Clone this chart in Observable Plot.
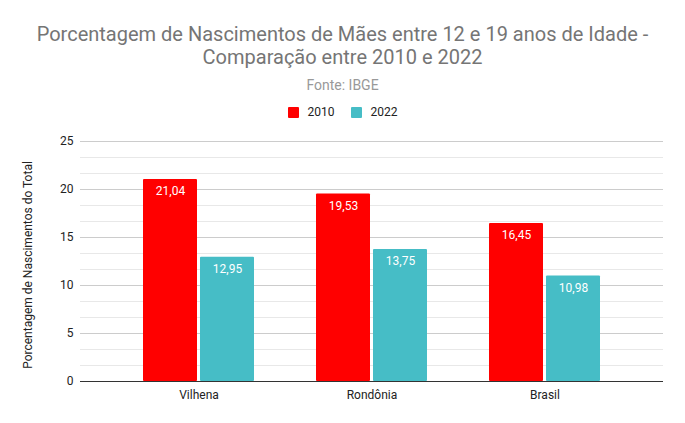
<!DOCTYPE html>
<html><head><meta charset="utf-8">
<script src="https://cdn.jsdelivr.net/npm/d3@7"></script>
<script src="https://cdn.jsdelivr.net/npm/@observablehq/plot@0.6"></script>
<style>
body{margin:0;background:#fff;font-family:Roboto,sans-serif;}
#wrap{position:relative;width:685px;height:423px;overflow:hidden;}
.title{position:absolute;left:0;width:685px;top:23px;text-align:center;font-size:20px;line-height:23px;color:#757575;}
.sub{position:absolute;left:0;width:685px;top:77px;text-align:center;font-size:14px;line-height:16px;color:#999;}
.legend{position:absolute;left:0;width:685px;top:105px;display:flex;justify-content:center;align-items:center;font-size:12px;color:#222;}
.legend span.sw{display:inline-block;width:11px;height:11px;border-radius:1px;margin-right:9px;}
.legend .item{display:flex;align-items:center;margin:0 8px;}
#chart{position:absolute;left:0;top:125px;}
.ylabel{position:absolute;left:28px;top:265px;transform:translate(-50%,-50%) rotate(-90deg);white-space:nowrap;font-size:12px;color:#222;line-height:14px;}
</style></head>
<body><div id="wrap">
<div class="title">Porcentagem de Nascimentos de Mães entre 12 e 19 anos de Idade -<br>Comparação entre 2010 e 2022</div>
<div class="sub">Fonte: IBGE</div>
<div class="legend" id="legend"></div>
<div id="chart"></div>
<div class="ylabel">Porcentagem de Nascimentos do Total</div>
</div>
<script>
const categories = ["Vilhena", "Rondônia", "Brasil"];
const series = ["2010", "2022"];
const values2010 = [21.04, 19.53, 16.45];
const values2022 = [12.95, 13.75, 10.98];
const yTicks = [0, 5, 10, 15, 20, 25];
const minorGrid = [5/3, 10/3, 20/3, 25/3, 35/3, 40/3, 50/3, 55/3, 65/3, 70/3];
const colors = ["#ff0000", "#46bdc6"];

const data = categories.map((c, i) => ({group: c, v2010: values2010[i], v2022: values2022[i]}));
const fmt = v => v.toFixed(2).replace(".", ",");

const leg = document.getElementById("legend");
series.forEach((s, i) => {
  const it = document.createElement("div"); it.className = "item";
  it.innerHTML = `<span class="sw" style="background:${colors[i]}"></span>${s}`;
  leg.appendChild(it);
});

const chart = Plot.plot({
  width: 685, height: 298,
  marginLeft: 80, marginRight: 22, marginTop: 16, marginBottom: 42,
  style: {fontFamily: "Roboto, sans-serif", fontSize: "12px", color: "#222", background: "#fff"},
  x: {type: "band", domain: categories, paddingInner: 0, paddingOuter: 0.1753},
  y: {domain: [0, 25]},
  marks: [
    Plot.ruleY(minorGrid, {stroke: "#e8e8e8"}),
    Plot.ruleY(yTicks.filter(t => t > 0), {stroke: "#cccccc"}),
    Plot.barY(data, {x: "group", y: "v2010", fill: colors[0], insetLeft: 31, insetRight: 88, rx: 1}),
    Plot.barY(data, {x: "group", y: "v2022", fill: colors[1], insetLeft: 88, insetRight: 31, rx: 1}),
    Plot.text(data, {x: "group", y: "v2010", text: d => fmt(d.v2010), dx: -28.5, dy: 12, fill: "#fff", fontSize: 12}),
    Plot.text(data, {x: "group", y: "v2022", text: d => fmt(d.v2022), dx: 28.5, dy: 12, fill: "#fff", fontSize: 12}),
    Plot.ruleY([0], {stroke: "#333"}),
    Plot.axisY({ticks: yTicks, tickSize: 0, tickPadding: 7, label: null, fill: "#222"}),
    Plot.axisX({tickSize: 0, tickPadding: 9, label: null, fill: "#222"})
  ]
});
document.getElementById("chart").appendChild(chart);
</script>
</body></html>
